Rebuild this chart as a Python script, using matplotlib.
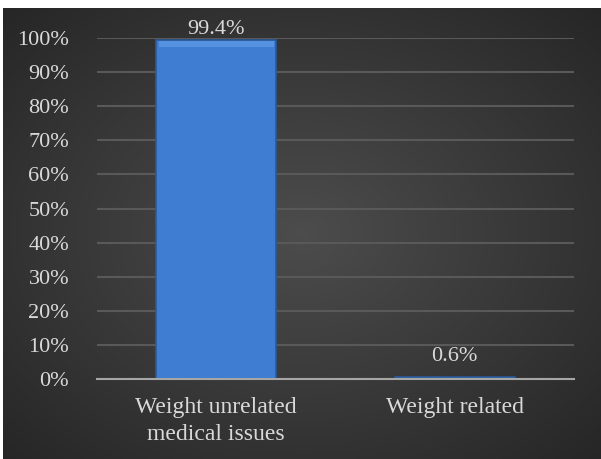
import numpy as np
import matplotlib.pyplot as plt
from matplotlib.patches import Rectangle

categories = ['Weight unrelated\nmedical issues', 'Weight related']
shares = [99.4, 0.6]
value_labels = ['99.4%', '0.6%']

plt.rcParams['font.family'] = 'serif'
plt.rcParams['font.serif'] = ['Liberation Serif', 'Times New Roman', 'DejaVu Serif']

fig = plt.figure(figsize=(6.01, 4.59), dpi=100, facecolor='white')

# dark radial-gradient backdrop
bg = fig.add_axes([3 / 601, 0, 598 / 601, 451 / 459])
yy, xx = np.mgrid[-1:1:300j, -1:1:400j]
r = np.sqrt(xx ** 2 + yy ** 2) / np.sqrt(2)
shade = 0.30 - 0.15 * r
bg.imshow(np.dstack([shade, shade, shade]), aspect='auto', extent=[0, 1, 0, 1])
bg.set_axis_off()

ax = fig.add_axes([97 / 601, 1 - 379 / 459, 477 / 601, 341 / 459])
ax.patch.set_alpha(0)
x = np.arange(len(categories))
bars = ax.bar(x, [s / 100 for s in shares], width=0.503, color='#3e7dd2',
              edgecolor='#2b5a98', linewidth=1.2, zorder=3)

# soft bevel along the top edge of each bar
for b in bars:
    h = b.get_height()
    if h > 0.05:
        ax.add_patch(Rectangle((b.get_x() + 0.01, h - 0.02), b.get_width() - 0.02, 0.017,
                               color='#5592e0', zorder=4, lw=0))

offsets = [1, 8]
for xi, s, lab, off in zip(x, shares, value_labels, offsets):
    ax.annotate(lab, (xi, s / 100), xytext=(0, off), textcoords='offset points',
                ha='center', va='bottom', fontsize=16, color='#d9d9d9')

ax.set_xlim(-0.5, 1.5)
ax.set_ylim(0, 1)
ax.set_yticks(np.linspace(0, 1, 11))
ax.set_yticklabels(['%d%%' % v for v in range(0, 101, 10)])
ax.set_xticks(x)
ax.set_xticklabels(categories, linespacing=1.4, fontsize=17)
ax.tick_params(axis='y', length=0, labelsize=16, colors='#d9d9d9', pad=20)
ax.tick_params(axis='x', length=0, colors='#d9d9d9', pad=13)
ax.grid(axis='y', color='#595959', linewidth=1.5, zorder=0)
ax.set_axisbelow(True)
for side in ['top', 'right', 'left']:
    ax.spines[side].set_visible(False)
ax.spines['bottom'].set_color('#a6a6a6')
ax.spines['bottom'].set_linewidth(1.5)
ax.spines['bottom'].set_zorder(5)

fig.savefig('out.png', dpi=100, facecolor='white')
